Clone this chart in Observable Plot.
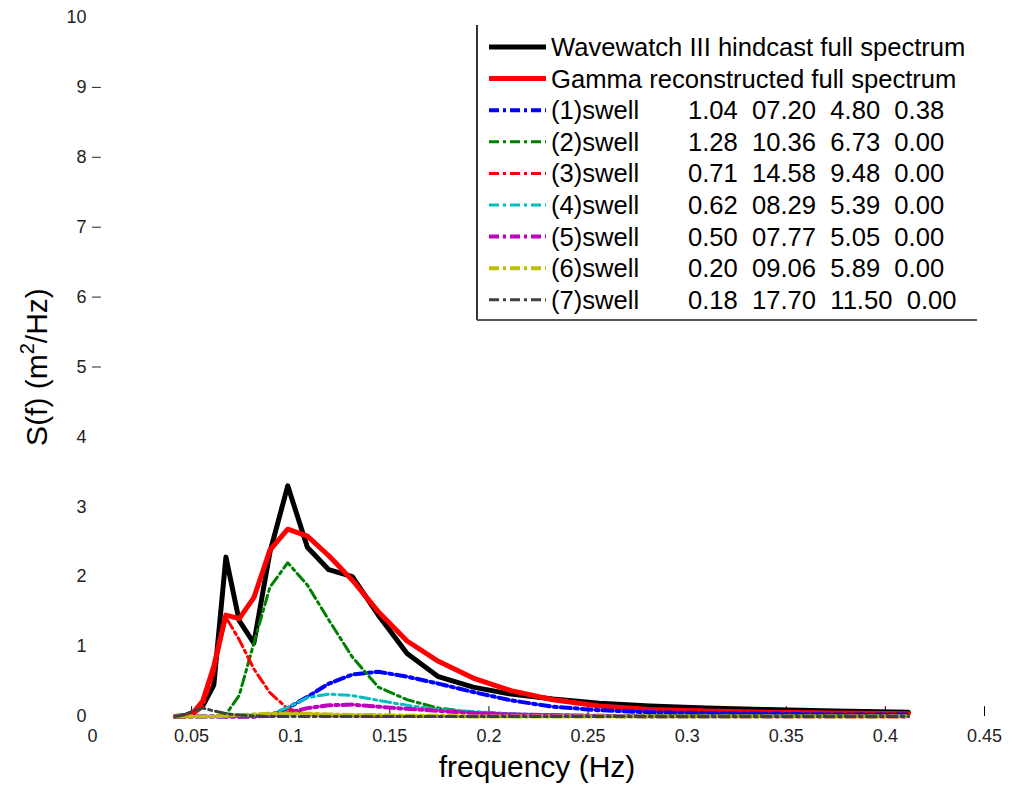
<!DOCTYPE html>
<html><head><meta charset="utf-8">
<script src="https://cdn.jsdelivr.net/npm/d3@7"></script>
<script src="https://cdn.jsdelivr.net/npm/@observablehq/plot@0.6"></script>
<style>
html,body{margin:0;padding:0;background:#fff;}
#chart{width:1020px;height:786px;overflow:hidden;}
</style></head><body><div id="chart"></div>
<script>
// WW3 frequency bins (Hz)
const freq = [0.0418,0.0460,0.0506,0.0556,0.0612,0.0673,0.0740,0.0814,0.0895,0.0985,0.1084,0.1192,0.1311,0.1442,0.1587,0.1745,0.1920,0.2112,0.2323,0.2556,0.2811,0.3092,0.3402,0.3742,0.4116];
const ww3Spectrum   = [0,0.01,0.05,0.15,0.45,2.28,1.37,1.05,2.35,3.30,2.42,2.10,2.00,1.45,0.90,0.57,0.42,0.32,0.25,0.19,0.15,0.12,0.10,0.08,0.06];
const gammaSpectrum = [0,0.00,0.05,0.22,0.72,1.45,1.40,1.70,2.38,2.68,2.58,2.30,1.95,1.50,1.08,0.79,0.55,0.37,0.24,0.15,0.10,0.08,0.06,0.05,0.04];
const swell1 = [0,0,0,0,0,0,0,0,0.02,0.12,0.28,0.47,0.60,0.64,0.57,0.47,0.35,0.23,0.14,0.09,0.06,0.05,0.04,0.03,0.03];
const swell2 = [0,0,0,0,0,0.03,0.30,1.05,1.85,2.20,1.88,1.38,0.85,0.42,0.24,0.12,0.06,0.03,0.02,0.01,0.01,0.01,0.01,0.01,0.01];
const swell3 = [0,0,0.02,0.14,0.62,1.42,1.10,0.68,0.34,0.11,0.03,0.01,0.01,0,0,0,0,0,0,0,0,0,0,0,0];
const swell4 = [0,0,0,0,0,0,0,0,0.02,0.13,0.27,0.32,0.30,0.23,0.16,0.10,0.07,0.04,0.02,0.01,0,0,0,0,0];
const swell5 = [0,0,0,0,0,0,0,0,0.01,0.05,0.12,0.16,0.17,0.14,0.11,0.08,0.05,0.03,0.02,0.01,0,0,0,0,0];
const swell6 = [0,0,0,0,0,0.01,0.02,0.03,0.04,0.04,0.04,0.03,0.02,0.02,0.01,0.01,0,0,0,0,0,0,0,0,0];
const swell7 = [0,0.02,0.08,0.12,0.08,0.04,0.02,0.01,0,0,0,0,0,0,0,0,0,0,0,0,0,0,0,0,0];

const swellNames  = ["(1)swell","(2)swell","(3)swell","(4)swell","(5)swell","(6)swell","(7)swell"];
const swellColors = ["#0000ff","#008000","#ff0000","#00bfbf","#bf00bf","#bfbf00","#404040"];
const swellWidths = [4,3,3,3,4,4,3];
const swellHs = ["1.04","1.28","0.71","0.62","0.50","0.20","0.18"];
const swellTp = ["07.20","10.36","14.58","08.29","07.77","09.06","17.70"];
const swellTm = ["4.80","6.73","9.48","5.39","5.05","5.89","11.50"];
const swellDir = ["0.38","0.00","0.00","0.00","0.00","0.00","0.00"];
const fullNames = ["Wavewatch III hindcast full spectrum","Gamma reconstructed full spectrum"];
const fullColors = ["#000000","#ff0000"];

const xTicks = [0,0.05,0.1,0.15,0.2,0.25,0.3,0.35,0.4,0.45];
const yTicks = [0,1,2,3,4,5,6,7,8,9,10];
const yTickMarks = [5,6,7,8,9];

const swells = [swell1,swell2,swell3,swell4,swell5,swell6,swell7];
const rows = (vals) => freq.map((f,i) => ({f, s: vals[i]}));
const font = "'Liberation Sans', Arial, sans-serif";
const dash = "10,4,3,4";

const plot = Plot.plot({
  width: 1020, height: 786,
  marginTop: 17, marginBottom: 70, marginLeft: 92, marginRight: 36,
  style: {fontFamily: font, fontSize: "18px", background: "#fff", color: "#222", overflow: "visible"},
  x: {domain: [0, 0.45]},
  y: {domain: [0, 10]},
  marks: [
    Plot.axisX(xTicks, {tickSize: 0, tickPadding: 13, tickFormat: d => d3.format("~g")(d), label: null}),
    Plot.axisY(yTicks, {tickSize: 0, tickPadding: 6, tickFormat: d => String(d), label: null}),
    Plot.ruleX(xTicks.slice(1), {y1: 0, y2: 0.14, stroke: "#000", strokeWidth: 1}),
    Plot.ruleY(yTickMarks, {x1: 0, x2: 0.0045, stroke: "#222", strokeWidth: 1}),
    Plot.line(rows(ww3Spectrum), {x: "f", y: "s", stroke: fullColors[0], strokeWidth: 5}),
    Plot.line(rows(gammaSpectrum), {x: "f", y: "s", stroke: fullColors[1], strokeWidth: 5}),
    ...swells.map((v, k) => Plot.line(rows(v), {x: "f", y: "s", stroke: swellColors[k], strokeWidth: swellWidths[k], strokeDasharray: dash}))
  ]
});
document.getElementById("chart").appendChild(plot);

const svg = d3.select(plot);
// axis titles
svg.append("text").attr("x", 537).attr("y", 777).attr("text-anchor", "middle")
  .attr("font-size", 30).attr("fill", "#000").attr("font-family", font).text("frequency (Hz)");
const yl = svg.append("text").attr("transform", "translate(47,367) rotate(-90)").attr("text-anchor", "middle")
  .attr("font-size", 30).attr("fill", "#000").attr("font-family", font);
yl.append("tspan").text("S(f) (m");
yl.append("tspan").attr("font-size", 20).attr("dy", -13).text("2");
yl.append("tspan").attr("dy", 13).text("/Hz)");

// legend
const lg = svg.append("g").attr("font-family", font).attr("font-size", 25.6).attr("fill", "#000").attr("text-anchor", "start");
lg.append("line").attr("x1", 477).attr("x2", 477).attr("y1", 25).attr("y2", 320).attr("stroke", "#333").attr("stroke-width", 2);
lg.append("line").attr("x1", 477).attr("x2", 977).attr("y1", 320).attr("y2", 320).attr("stroke", "#555").attr("stroke-width", 2);
const rowY = k => 47 + k * 31.6;
fullNames.forEach((n, k) => {
  lg.append("line").attr("x1", 489).attr("x2", 546).attr("y1", rowY(k)).attr("y2", rowY(k)).attr("stroke", fullColors[k]).attr("stroke-width", 5);
  lg.append("text").attr("x", 551).attr("y", rowY(k) + 9).text(n);
});
swellNames.forEach((n, j) => {
  const k = j + 2;
  lg.append("line").attr("x1", 489).attr("x2", 546).attr("y1", rowY(k)).attr("y2", rowY(k)).attr("stroke", swellColors[j]).attr("stroke-width", swellWidths[j]).attr("stroke-dasharray", dash);
  lg.append("text").attr("x", 551).attr("y", rowY(k) + 9).text(n);
  lg.append("text").attr("x", 688).attr("y", rowY(k) + 9).style("white-space", "pre")
    .text([swellHs[j], swellTp[j], swellTm[j], swellDir[j]].join("  "));
});
</script></body></html>
